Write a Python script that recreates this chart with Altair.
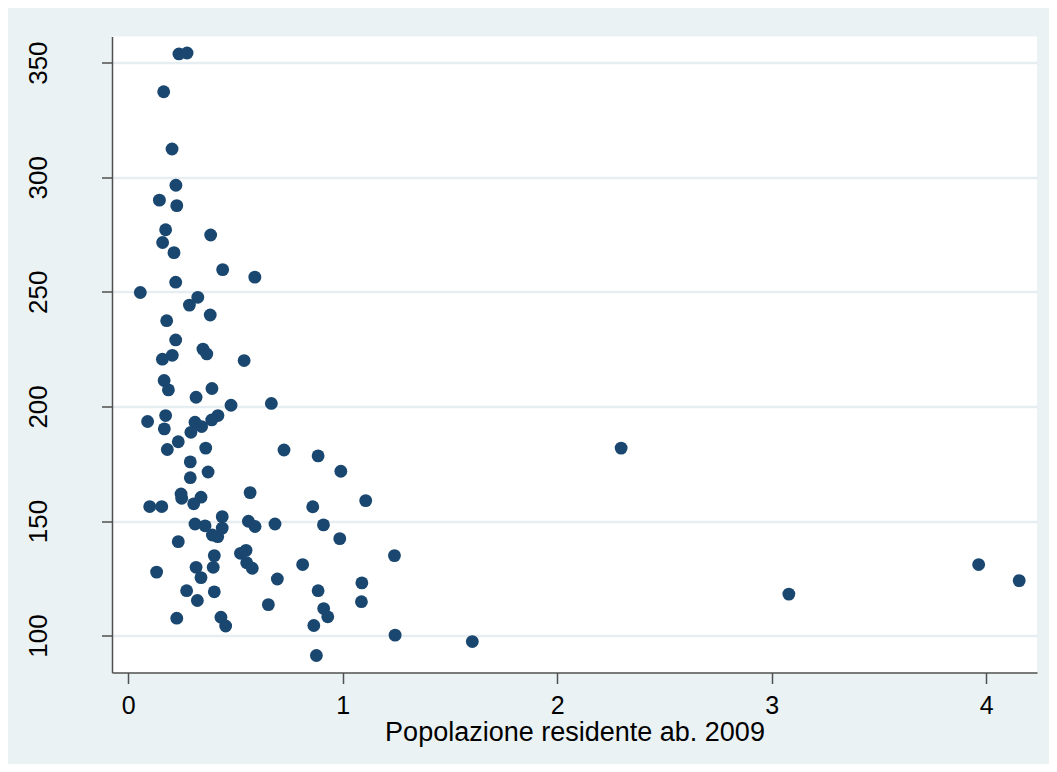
import altair as alt
import pandas as pd

# Popolazione residente ab. 2009 (x) and the y variable
pop = [
    0.236, 0.274, 0.165, 0.204, 0.222, 0.145, 0.226, 0.174, 0.384, 0.160,
    0.213, 0.440, 0.590, 0.221, 0.056, 0.324, 0.285, 0.382, 0.179, 0.221,
    0.348, 0.366, 0.159, 0.205, 0.540, 0.167, 0.187, 0.390, 0.316, 0.479,
    0.667,
    0.090, 0.174, 0.168, 0.311, 0.342, 0.292, 0.389, 0.418, 0.233, 0.182,
    0.361, 0.726, 0.289, 0.372, 0.289, 0.568, 0.246, 0.249, 0.339, 0.305,
    0.100, 0.156,
    0.438, 0.311, 0.358, 0.438, 0.392, 0.417, 0.560, 0.591, 0.684, 0.233,
    0.401, 0.523, 0.549, 0.552, 0.578, 0.132, 0.316, 0.396, 0.339, 0.695,
    0.272, 0.401, 0.322, 0.653, 0.226, 0.432, 0.454,
    0.885, 0.991, 1.107, 0.860, 0.910, 0.986, 1.241, 0.813, 0.885, 1.089,
    1.087, 0.911, 0.930, 0.865, 1.244, 1.604, 0.877,
    2.298, 3.080, 3.965, 4.154,
]
val = [
    353.8, 354.2, 337.3, 312.3, 296.5, 290.0, 287.6, 277.1, 274.8, 271.5,
    267.1, 259.7, 256.4, 254.2, 249.7, 247.6, 244.2, 239.9, 237.4, 229.0,
    225.0, 222.9, 220.6, 222.3, 220.0, 211.3, 207.2, 207.8, 204.0, 200.5,
    201.3,
    193.4, 196.0, 190.2, 193.1, 191.2, 188.7, 194.1, 196.0, 184.6, 181.2,
    181.8, 181.0, 175.8, 171.4, 168.9, 162.4, 161.8, 159.9, 160.4, 157.5,
    156.3, 156.3,
    151.9, 148.7, 147.9, 146.9, 143.9, 143.2, 149.9, 147.6, 148.7, 141.0,
    134.9, 135.9, 137.2, 131.8, 129.4, 127.7, 129.8, 129.8, 125.3, 124.7,
    119.6, 119.1, 115.3, 113.5, 107.6, 108.0, 104.2,
    178.4, 171.7, 158.9, 156.2, 148.3, 142.3, 134.9, 131.0, 119.6, 123.0,
    114.8, 111.8, 108.2, 104.4, 100.2, 97.4, 91.3,
    181.8, 118.1, 131.0, 124.0,
]
x_ticks = [0, 1, 2, 3, 4]
y_ticks = [100, 150, 200, 250, 300, 350]
x_title = "Popolazione residente ab. 2009"

df = pd.DataFrame({"pop": pop, "val": val})

FONT = "Liberation Sans"
AXIS_COL = "#505050"

chart = (
    alt.Chart(df)
    .mark_circle(size=165, opacity=1, color="#1A476F")
    .encode(
        x=alt.X(
            "pop:Q",
            scale=alt.Scale(domain=[-0.076, 4.237], nice=False, zero=False),
            axis=alt.Axis(
                title=x_title,
                values=x_ticks,
                grid=False,
                domainColor=AXIS_COL,
                domainWidth=1.5,
                tickColor=AXIS_COL,
                tickWidth=1.5,
                tickSize=11,
                labelFont=FONT,
                labelFontSize=25,
                labelColor="black",
                labelBaseline="alphabetic",
                labelPadding=30,
                titleFont=FONT,
                titleFontSize=27,
                titleFontWeight="normal",
                titleColor="black",
                titleBaseline="alphabetic",
                titleY=67.5,
            ),
        ),
        y=alt.Y(
            "val:Q",
            scale=alt.Scale(domain=[83.9, 361.4], nice=False, zero=False),
            axis=alt.Axis(
                title=None,
                values=y_ticks,
                grid=True,
                gridColor="#E6EEF1",
                gridWidth=2.5,
                domainColor=AXIS_COL,
                domainWidth=1.5,
                tickColor=AXIS_COL,
                tickWidth=1.5,
                tickSize=10.5,
                labelFont=FONT,
                labelFontSize=26,
                labelColor="black",
                labelAngle=270,
                labelAlign="center",
                labelBaseline="alphabetic",
                labelPadding=55,
            ),
        ),
    )
    .properties(
        width=925,
        height=636,
        autosize=alt.AutoSizeParams(type="none"),
        padding={"left": 104, "top": 28.5, "right": 12, "bottom": 91.5},
        background="#EAF2F3",
    )
    .configure_view(fill="white", stroke=None)
)

chart.save("out.html", embed_options={"renderer": "svg", "actions": False})
